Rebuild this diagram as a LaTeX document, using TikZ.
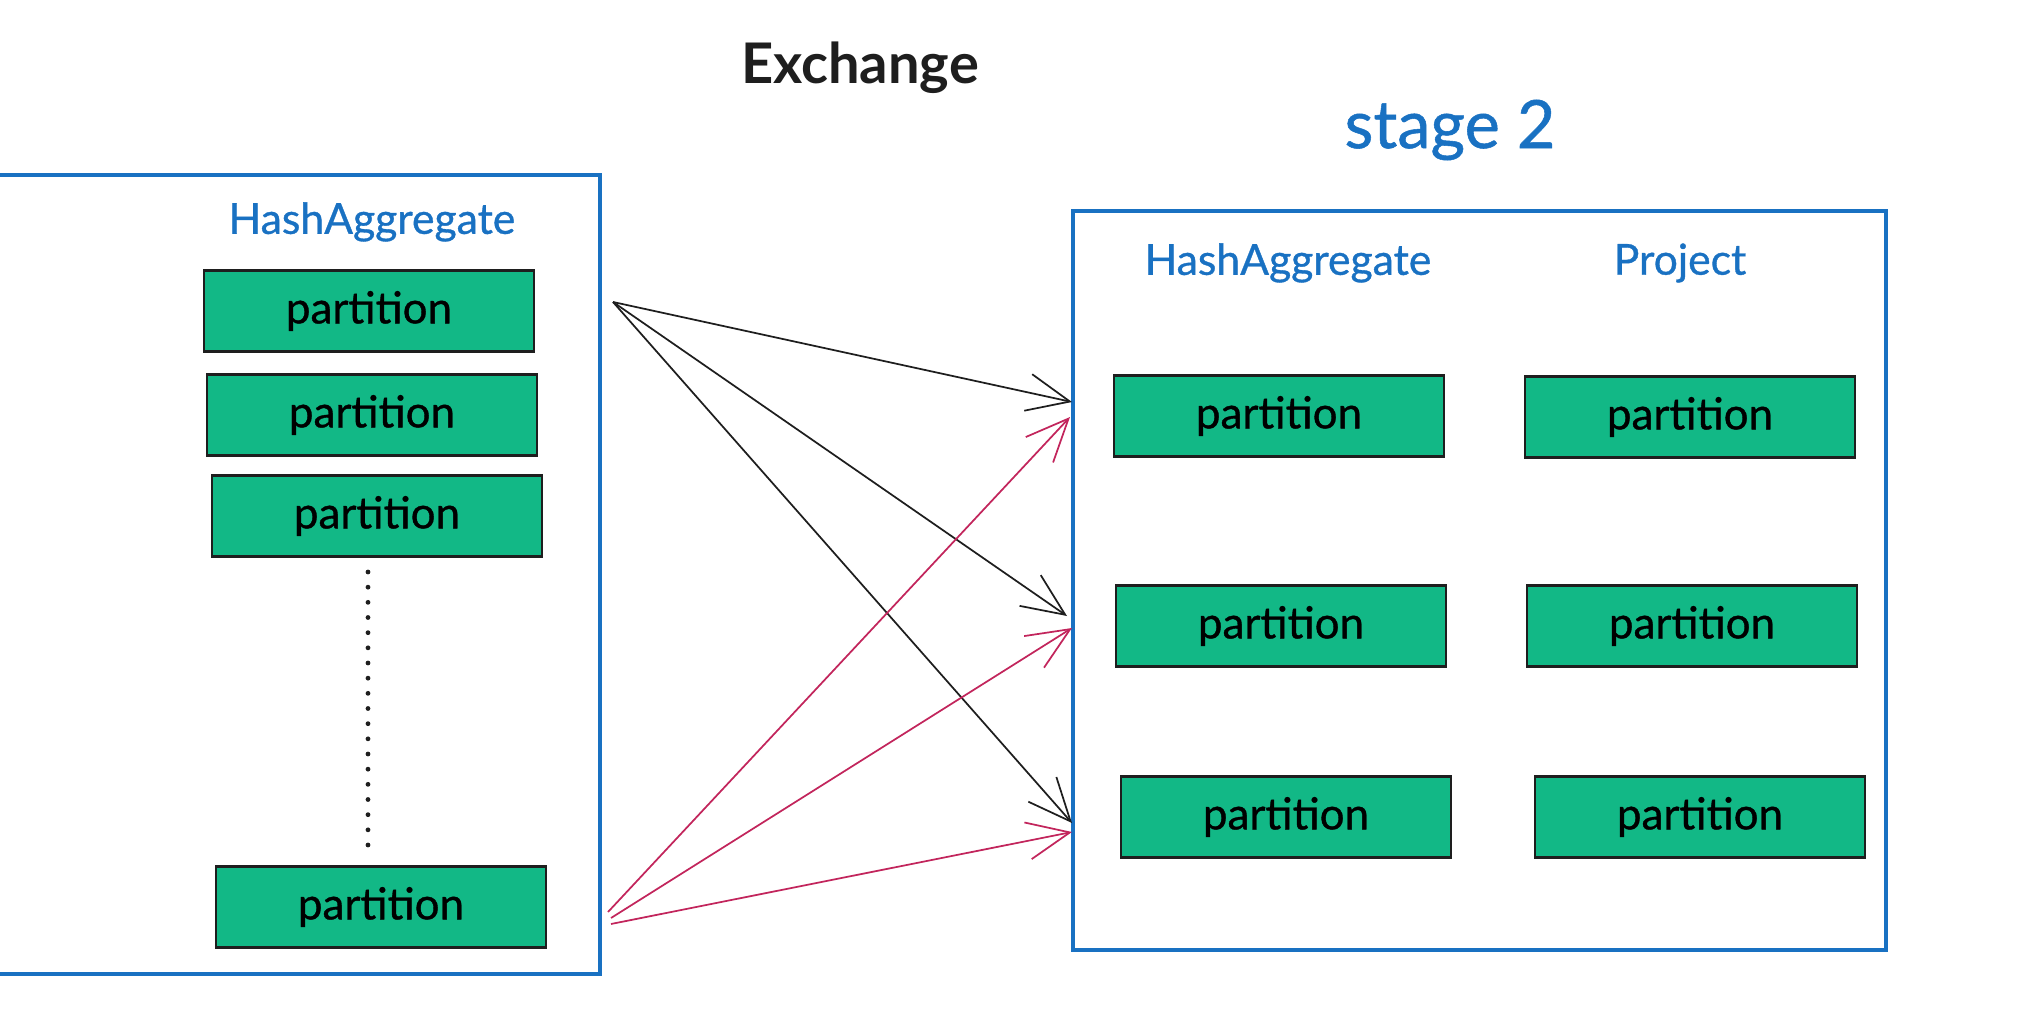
\documentclass[tikz,border=0pt]{standalone}
\usepackage{fontspec}
\setmainfont{Lato}
\newfontfamily\handfont{Lato}[FakeBold=0.8]
\usetikzlibrary{arrows.meta}
\definecolor{skblue}{HTML}{1971C2}
\definecolor{skgreen}{HTML}{12B886}
\definecolor{skred}{HTML}{C2255C}
\definecolor{skink}{HTML}{1E1E1E}

\begin{document}
\begin{tikzpicture}[x=0.75pt,y=-0.75pt,
  part/.style={draw=skink, line width=2.2pt, fill=skgreen,
    minimum width=247.5pt, minimum height=60.75pt, inner sep=0pt,
    font=\handfont\fontsize{33}{40}\selectfont, text=black},
  stagebox/.style={draw=skblue, line width=3pt, inner sep=0pt},
  oplabel/.style={text=skblue, font=\handfont\fontsize{32}{38}\selectfont},
  flow/.style={line width=1.3pt,
    -{Straight Barb[length=32pt, width=28pt, line width=1.3pt]}},
]
\useasboundingbox (0,0) rectangle (2044,1016);

% titles
\node[font=\bfseries\fontsize{42}{50}\selectfont, text=skink] (exch) at (860,68) {Exchange};
\node[font=\handfont\fontsize{50}{60}\selectfont, text=skblue] (stg) at (1450,130) {stage 2};

% stage frames
\node[stagebox, minimum width=470pt, minimum height=599.25pt, anchor=north east] (left) at (602,173) {};
\node[stagebox, minimum width=609.75pt, minimum height=554.25pt] (right) at (1479.5,580.5) {};

% operator labels
\node[oplabel] (lagg) at (372,222) {HashAggregate};
\node[oplabel] (ragg) at (1288,263) {HashAggregate};
\node[oplabel] (proj) at (1680,263) {Project};

% upstream partitions
\node[part] (l1) at (369,311) {partition};
\node[part] (l2) at (372,415) {partition};
\node[part] (l3) at (377,516) {partition};
\node[part] (l4) at (381,907) {partition};

% elided partitions
\coordinate (dtop) at (368,572);
\coordinate (dbot) at (368,845);
\draw[skink, line width=3.6pt, line cap=round, dash pattern=on 0pt off 11.375pt]
  (dtop) -- (dbot);

% downstream partitions
\node[part] (a1) at (1279,416) {partition};
\node[part] (a2) at (1281,626) {partition};
\node[part] (a3) at (1286,817) {partition};
\node[part] (p1) at (1690,417) {partition};
\node[part] (p2) at (1692,626) {partition};
\node[part] (p3) at (1700,817) {partition};

% exchange end points
\coordinate (bsrc) at (613,302);
\coordinate (rs1) at (608,912);
\coordinate (rs2) at (611,918);
\coordinate (rs3) at (611,924);
\coordinate (bt1) at (1072,402);
\coordinate (bt2) at (1067,616);
\coordinate (bt3) at (1072,823);
\coordinate (rt1) at (1070,417);
\coordinate (rt2) at (1072,628);
\coordinate (rt3) at (1072,832);

\draw[flow, skink] (bsrc) -- (bt1);
\draw[flow, skink] (bsrc) -- (bt2);
\draw[flow, skink] (bsrc) -- (bt3);
\draw[flow, skred] (rs1) -- (rt1);
\draw[flow, skred] (rs2) -- (rt2);
\draw[flow, skred] (rs3) -- (rt3);
\end{tikzpicture}
\end{document}
